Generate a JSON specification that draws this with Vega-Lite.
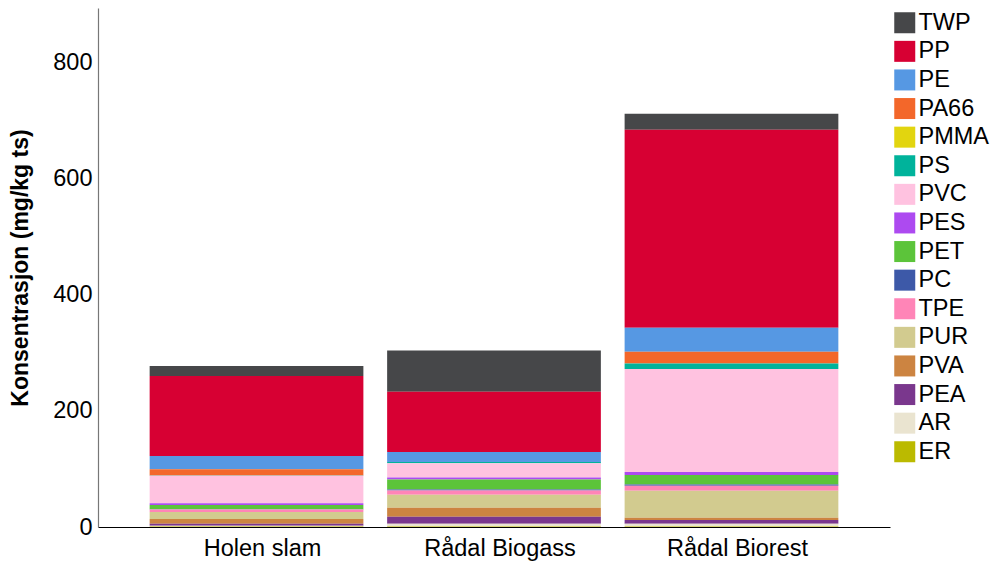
{
  "$schema": "https://vega.github.io/schema/vega-lite/v6.json",
  "autosize": "none",
  "width": 792,
  "height": 519,
  "padding": {"left": 98, "top": 8, "right": 103, "bottom": 35},
  "background": "white",
  "config": {
    "view": {"stroke": null},
    "font": "Liberation Sans"
  },
  "data": {
    "values": [
      {"site": "Holen slam", "polymer": "TWP", "idx": 1, "value": 17.2},
      {"site": "Holen slam", "polymer": "PP", "idx": 2, "value": 137.7},
      {"site": "Holen slam", "polymer": "PE", "idx": 3, "value": 22.9},
      {"site": "Holen slam", "polymer": "PA66", "idx": 4, "value": 10.8},
      {"site": "Holen slam", "polymer": "PMMA", "idx": 5, "value": 0},
      {"site": "Holen slam", "polymer": "PS", "idx": 6, "value": 0.4},
      {"site": "Holen slam", "polymer": "PVC", "idx": 7, "value": 47.3},
      {"site": "Holen slam", "polymer": "PES", "idx": 8, "value": 2.9},
      {"site": "Holen slam", "polymer": "PET", "idx": 9, "value": 7.4},
      {"site": "Holen slam", "polymer": "PC", "idx": 10, "value": 0.4},
      {"site": "Holen slam", "polymer": "TPE", "idx": 11, "value": 4.4},
      {"site": "Holen slam", "polymer": "PUR", "idx": 12, "value": 12.0},
      {"site": "Holen slam", "polymer": "PVA", "idx": 13, "value": 8.1},
      {"site": "Holen slam", "polymer": "PEA", "idx": 14, "value": 3.4},
      {"site": "Holen slam", "polymer": "AR", "idx": 15, "value": 1.2},
      {"site": "Holen slam", "polymer": "ER", "idx": 16, "value": 1.0},
      {"site": "Rådal Biogass", "polymer": "TWP", "idx": 1, "value": 71.1},
      {"site": "Rådal Biogass", "polymer": "PP", "idx": 2, "value": 103.3},
      {"site": "Rådal Biogass", "polymer": "PE", "idx": 3, "value": 17.2},
      {"site": "Rådal Biogass", "polymer": "PA66", "idx": 4, "value": 0},
      {"site": "Rådal Biogass", "polymer": "PMMA", "idx": 5, "value": 0},
      {"site": "Rådal Biogass", "polymer": "PS", "idx": 6, "value": 2.3},
      {"site": "Rådal Biogass", "polymer": "PVC", "idx": 7, "value": 24.6},
      {"site": "Rådal Biogass", "polymer": "PES", "idx": 8, "value": 3.4},
      {"site": "Rådal Biogass", "polymer": "PET", "idx": 9, "value": 17.2},
      {"site": "Rådal Biogass", "polymer": "PC", "idx": 10, "value": 1.7},
      {"site": "Rådal Biogass", "polymer": "TPE", "idx": 11, "value": 7.4},
      {"site": "Rådal Biogass", "polymer": "PUR", "idx": 12, "value": 22.4},
      {"site": "Rådal Biogass", "polymer": "PVA", "idx": 13, "value": 15.5},
      {"site": "Rådal Biogass", "polymer": "PEA", "idx": 14, "value": 12.0},
      {"site": "Rådal Biogass", "polymer": "AR", "idx": 15, "value": 4.5},
      {"site": "Rådal Biogass", "polymer": "ER", "idx": 16, "value": 1.0},
      {"site": "Rådal Biorest", "polymer": "TWP", "idx": 1, "value": 27.5},
      {"site": "Rådal Biorest", "polymer": "PP", "idx": 2, "value": 340.8},
      {"site": "Rådal Biorest", "polymer": "PE", "idx": 3, "value": 41.3},
      {"site": "Rådal Biorest", "polymer": "PA66", "idx": 4, "value": 20.1},
      {"site": "Rådal Biorest", "polymer": "PMMA", "idx": 5, "value": 0},
      {"site": "Rådal Biorest", "polymer": "PS", "idx": 6, "value": 9.6},
      {"site": "Rådal Biorest", "polymer": "PVC", "idx": 7, "value": 177.3},
      {"site": "Rådal Biorest", "polymer": "PES", "idx": 8, "value": 5.2},
      {"site": "Rådal Biorest", "polymer": "PET", "idx": 9, "value": 16.0},
      {"site": "Rådal Biorest", "polymer": "PC", "idx": 10, "value": 2.3},
      {"site": "Rådal Biorest", "polymer": "TPE", "idx": 11, "value": 8.6},
      {"site": "Rådal Biorest", "polymer": "PUR", "idx": 12, "value": 46.5},
      {"site": "Rådal Biorest", "polymer": "PVA", "idx": 13, "value": 4.0},
      {"site": "Rådal Biorest", "polymer": "PEA", "idx": 14, "value": 6.4},
      {"site": "Rådal Biorest", "polymer": "AR", "idx": 15, "value": 4.5},
      {"site": "Rådal Biorest", "polymer": "ER", "idx": 16, "value": 1.0}
    ]
  },
  "mark": {"type": "bar"},
  "encoding": {
    "x": {
      "field": "site",
      "type": "nominal",
      "sort": ["Holen slam", "Rådal Biogass", "Rådal Biorest"],
      "scale": {"paddingInner": 0.1, "paddingOuter": 0.2175},
      "axis": {
        "title": null,
        "labelAngle": 0,
        "labelFontSize": 23.5,
        "labelColor": "black",
        "labelPadding": 9,
        "labelOffset": 6,
        "ticks": false,
        "domainColor": "black",
        "domainWidth": 1.2
      }
    },
    "y": {
      "field": "value",
      "type": "quantitative",
      "stack": "zero",
      "scale": {"domain": [0, 893], "nice": false},
      "axis": {
        "title": "Konsentrasjon (mg/kg ts)",
        "titleFontSize": 23,
        "titleFontWeight": "bold",
        "titleColor": "black",
        "titlePadding": 20,
        "values": [0, 200, 400, 600, 800],
        "labelFontSize": 23.5,
        "labelColor": "black",
        "labelPadding": 6,
        "ticks": false,
        "grid": false,
        "domainColor": "#777777",
        "domainWidth": 1.2
      }
    },
    "color": {
      "field": "polymer",
      "type": "nominal",
      "scale": {
        "domain": ["TWP", "PP", "PE", "PA66", "PMMA", "PS", "PVC", "PES", "PET", "PC", "TPE", "PUR", "PVA", "PEA", "AR", "ER"],
        "range": ["#464749", "#D70033", "#5698E3", "#F3672A", "#E2D50F", "#00B39B", "#FFC2E0", "#AD4AF0", "#5CC43A", "#3D59A8", "#FF85B7", "#D2CB8F", "#CC8441", "#7A378D", "#EAE4D0", "#BBBA00"]
      },
      "legend": {
        "title": null,
        "orient": "none",
        "legendX": 795,
        "legendY": 3,
        "symbolType": "square",
        "symbolSize": 441,
        "symbolStrokeWidth": 0,
        "labelFontSize": 23.5,
        "labelColor": "black",
        "labelOffset": 2,
        "rowPadding": 3.6
      }
    },
    "order": {"field": "idx", "type": "quantitative", "sort": "descending"}
  }
}
